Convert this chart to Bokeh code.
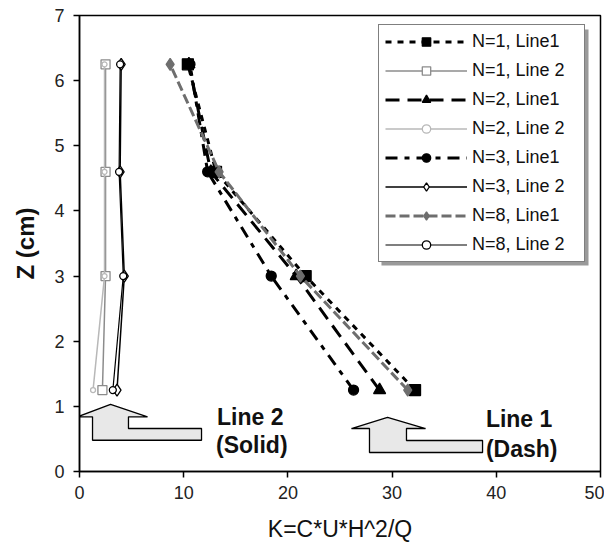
from bokeh.plotting import figure
from bokeh.models import Range1d, Legend, LegendItem, FixedTicker
from bokeh.core.properties import value
from bokeh.embed import file_html
from bokeh.resources import INLINE

# ---- data ----
z = [1.25, 3.0, 4.6, 6.25]
n1_line1 = [32.2, 21.7, 13.1, 10.4]
n2_line1 = [28.8, 20.8, 12.6, 10.5]
n3_line1 = [26.3, 18.4, 12.3, 10.6]
n8_line1 = [31.5, 21.2, 13.4, 8.7]
n1_line2 = [2.2, 2.5, 2.5, 2.5]
n2_line2 = [1.3, 2.4, 2.4, 2.4]
n3_line2 = [3.6, 4.3, 3.9, 4.0]
n8_line2 = [3.2, 4.2, 3.8, 3.9]
series_labels = ["N=1, Line1", "N=1, Line 2", "N=2, Line1", "N=2, Line 2",
                 "N=3, Line1", "N=3, Line 2", "N=8, Line1", "N=8, Line 2"]
x_ticks = [0, 10, 20, 30, 40, 50]
y_ticks = [0, 1, 2, 3, 4, 5, 6, 7]

# annotation arrows, texts, legend shadow
arrow2_x = [2.98, 6.53, 4.70, 4.70, 11.71, 11.71, 1.25, 1.25, -0.19]
arrow2_y = [1.03, 0.84, 0.84, 0.66, 0.66, 0.48, 0.48, 0.84, 0.84]
arrow1_x = [29.56, 33.21, 31.38, 31.38, 38.68, 38.68, 27.83, 27.83, 26.10]
arrow1_y = [0.829, 0.66, 0.66, 0.476, 0.476, 0.292, 0.292, 0.66, 0.66]
note_text = ["Line 2", "(Solid)", "Line 1", "(Dash)"]
note_x = [13.2, 13.1, 39.0, 39.0]
note_y = [0.84, 0.40, 0.81, 0.35]
shadow_box = dict(left=28.98, right=48.85, bottom=3.162, top=6.785)

FONT = "Liberation Sans"

p = figure(width=604, height=548, output_backend="svg", toolbar_location=None,
           x_range=Range1d(0, 50), y_range=Range1d(0, 7),
           min_border_left=79, min_border_right=4, min_border_top=15, min_border_bottom=77)
p.background_fill_color = "white"
p.border_fill_color = "white"
p.outline_line_color = "black"
p.outline_line_width = 1.5
p.xgrid.visible = False
p.ygrid.visible = False

for ax in (p.xaxis, p.yaxis):
    ax.axis_line_color = "black"
    ax.axis_line_width = 1.5
    ax.major_tick_line_color = "black"
    ax.major_tick_line_width = 1.5
    ax.major_tick_in = 0
    ax.major_tick_out = 6
    ax.minor_tick_line_color = None
    ax.major_label_text_font = FONT
    ax.major_label_text_font_size = "18px"
    ax.major_label_text_color = "#222222"
p.xaxis.ticker = FixedTicker(ticks=x_ticks)
p.yaxis.ticker = FixedTicker(ticks=y_ticks)
p.xaxis.major_label_standoff = 8
p.yaxis.major_label_standoff = 9
p.xaxis.axis_label = "K=C*U*H^2/Q"
p.xaxis.axis_label_text_font = FONT
p.xaxis.axis_label_text_font_size = "23px"
p.xaxis.axis_label_text_font_style = "normal"
p.xaxis.axis_label_text_color = "#111111"
p.xaxis.axis_label_standoff = 14
p.yaxis.axis_label = "Z (cm)"
p.yaxis.axis_label_text_font = FONT
p.yaxis.axis_label_text_font_size = "24px"
p.yaxis.axis_label_text_font_style = "bold"
p.yaxis.axis_label_text_color = "#111111"
p.yaxis.axis_label_standoff = 12

# legend shadow
p.quad(left=[shadow_box["left"]], right=[shadow_box["right"]],
       bottom=[shadow_box["bottom"]], top=[shadow_box["top"]],
       fill_color="#9a9a9a", line_color=None)

# arrows
p.patch(arrow2_x, arrow2_y, fill_color="#e8e8e8", line_color="black", line_width=1.3)
p.patch(arrow1_x, arrow1_y, fill_color="#e8e8e8", line_color="black", line_width=1.3)
p.text(x=note_x, y=note_y, text=note_text, text_font=value(FONT), text_font_size="23px",
       text_font_style="bold", text_color="#111111", text_align="left",
       text_baseline="alphabetic")

styles = [
    (n1_line1, "black", 3, "6 6", "square", 11, "black", "black"),
    (n1_line2, "#8c8c8c", 1.5, "solid", "square", 9, "white", "#8c8c8c"),
    (n2_line1, "black", 3, "14 8", "triangle", 12, "black", "black"),
    (n2_line2, "#b8b8b8", 1.5, "solid", "circle", 5, "white", "#b8b8b8"),
    (n3_line1, "black", 3, "12 7 5 7", "circle", 10, "black", "black"),
    (n3_line2, "black", 1.5, "solid", "diamond", 12, "white", "black"),
    (n8_line1, "#6e6e6e", 3, "10 4", "diamond", 12, "#6e6e6e", "#6e6e6e"),
    (n8_line2, "black", 1.2, "solid", "circle", 7, "white", "black"),
]

items = []
for (xs, lc, lw, dash, marker, size, fc, mc), label in zip(styles, series_labels):
    r1 = p.line(xs, z, line_color=lc, line_width=lw, line_dash=dash)
    r2 = p.scatter(xs, z, marker=marker, size=size, fill_color=fc, line_color=mc, line_width=1.3)
    items.append(LegendItem(label=label, renderers=[r1, r2]))

legend = Legend(items=items, location=(299, 209))
legend.label_text_font = FONT
legend.label_text_font_size = "18px"
legend.label_text_color = "#111111"
legend.label_height = 21
legend.label_width = 106
legend.glyph_height = 21
legend.glyph_width = 82
legend.spacing = 8
legend.padding = 6
legend.margin = 0
legend.label_standoff = 5
legend.border_line_color = "black"
legend.border_line_width = 1.2
legend.background_fill_color = "white"
legend.background_fill_alpha = 1.0
p.add_layout(legend, "center")

open("out.html", "w").write(file_html(p, INLINE))
